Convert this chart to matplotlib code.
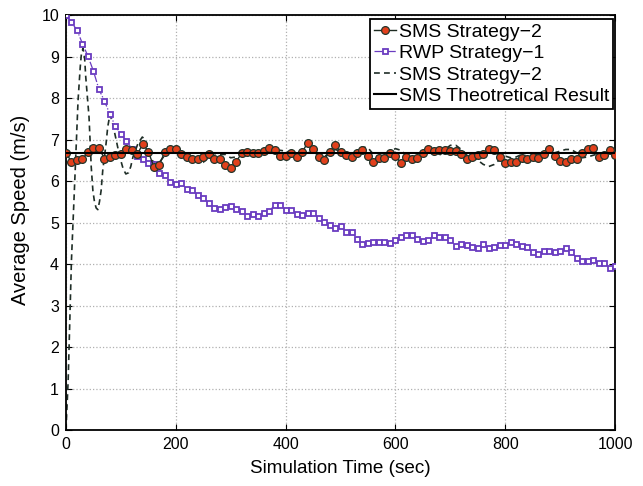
import matplotlib.pyplot as plt
import numpy as np

plt.rcParams["font.family"] = ["Liberation Sans", "DejaVu Sans"]

# sample times of the marked series (sec)
time = np.arange(0, 1001, 10)

# SMS Strategy-2, sampled every 10 s
sms_speed = [
    6.67, 6.47, 6.51, 6.53, 6.70, 6.79, 6.80, 6.54, 6.59, 6.62,
    6.65, 6.77, 6.75, 6.64, 6.90, 6.71, 6.34, 6.38, 6.71, 6.76,
    6.76, 6.64, 6.58, 6.52, 6.52, 6.58, 6.64, 6.52, 6.52, 6.39,
    6.32, 6.46, 6.68, 6.71, 6.68, 6.68, 6.73, 6.80, 6.74, 6.60,
    6.60, 6.67, 6.57, 6.69, 6.92, 6.78, 6.58, 6.50, 6.71, 6.86,
    6.71, 6.63, 6.58, 6.67, 6.74, 6.60, 6.47, 6.55, 6.55, 6.68,
    6.60, 6.43, 6.59, 6.54, 6.55, 6.67, 6.76, 6.72, 6.74, 6.74,
    6.72, 6.72, 6.64, 6.54, 6.58, 6.63, 6.66, 6.76, 6.74, 6.58,
    6.43, 6.47, 6.47, 6.55, 6.52, 6.57, 6.55, 6.66, 6.76, 6.60,
    6.48, 6.47, 6.52, 6.52, 6.67, 6.78, 6.80, 6.59, 6.63, 6.74,
    6.62,
]

# RWP Strategy-1, sampled every 10 s
rwp_speed = [
    10.00, 9.82, 9.64, 9.31, 9.01, 8.65, 8.21, 7.93, 7.61, 7.32,
    7.14, 6.96, 6.78, 6.61, 6.54, 6.44, 6.42, 6.20, 6.14, 5.97,
    5.93, 5.95, 5.80, 5.78, 5.66, 5.59, 5.46, 5.36, 5.33, 5.37,
    5.39, 5.32, 5.27, 5.15, 5.21, 5.15, 5.23, 5.27, 5.42, 5.42,
    5.31, 5.31, 5.21, 5.18, 5.22, 5.22, 5.11, 5.02, 4.93, 4.86,
    4.91, 4.78, 4.78, 4.61, 4.48, 4.51, 4.52, 4.52, 4.52, 4.50,
    4.59, 4.65, 4.71, 4.69, 4.61, 4.56, 4.59, 4.69, 4.65, 4.64,
    4.59, 4.44, 4.49, 4.46, 4.40, 4.38, 4.48, 4.39, 4.40, 4.46,
    4.46, 4.54, 4.49, 4.44, 4.40, 4.28, 4.24, 4.32, 4.32, 4.29,
    4.32, 4.39, 4.30, 4.14, 4.08, 4.08, 4.10, 4.02, 4.02, 3.91,
    3.96,
]

# SMS Strategy-2 transient run (unmarked dashed curve)
sms_run_time = [
    0, 4, 10, 16, 22, 26, 28, 31, 34, 36, 42, 46, 49, 52, 55, 58, 61, 64,
    67, 73, 76, 80, 84, 89, 98, 104, 109, 114, 118, 122, 131, 139, 144,
    148, 156, 165, 170,
] + list(range(180, 1001, 10))
sms_run_speed = [
    0.0, 1.2, 4.1, 6.0, 7.94, 8.75, 9.05, 9.2, 8.95, 8.51, 7.54, 6.34,
    5.77, 5.49, 5.35, 5.31, 5.5, 5.77, 6.26, 6.9, 7.3, 7.6, 7.45, 7.14,
    6.58, 6.3, 6.17, 6.2, 6.35, 6.58, 6.9, 7.06, 7.0, 6.82, 6.5, 6.42,
    6.45,
    6.62, 6.72, 6.72, 6.66, 6.62, 6.58, 6.48, 6.45, 6.58, 6.66,
    6.64, 6.64, 6.56, 6.58, 6.66, 6.72, 6.72, 6.70, 6.72, 6.74,
    6.72, 6.74, 6.72, 6.68, 6.64, 6.66, 6.68, 6.70, 6.62, 6.58,
    6.68, 6.76, 6.72, 6.66, 6.64, 6.72, 6.82, 6.80, 6.64, 6.58,
    6.62, 6.72, 6.78, 6.74, 6.62, 6.56, 6.58, 6.64, 6.70, 6.66,
    6.62, 6.76, 6.86, 6.86, 6.76, 6.62, 6.58, 6.50, 6.40, 6.35,
    6.40, 6.52, 6.60, 6.56, 6.58, 6.64, 6.68, 6.66, 6.62, 6.66,
    6.70, 6.68, 6.72, 6.76, 6.76, 6.68, 6.56, 6.58, 6.62, 6.66,
    6.64, 6.70, 6.66,
]

theory_speed = 6.67

fig = plt.figure(figsize=(6.43, 4.86), dpi=100)
ax = fig.add_axes([0.1026, 0.1152, 0.854, 0.8539])

ax.plot(time, sms_speed, "-o", color="#1e2b22", linewidth=1.0,
        markersize=5.6, markerfacecolor="#e2401c", markeredgecolor="#25352a",
        markeredgewidth=0.9, label="SMS Strategy\u22122", zorder=4)
ax.plot(time, rwp_speed, "-.s", color="#6a3cc0", linewidth=0.9,
        markersize=3.6, markerfacecolor="white", markeredgecolor="#6a3cc0",
        markeredgewidth=1.3, label="RWP Strategy\u22121", zorder=3)
ax.plot(sms_run_time, sms_run_speed, "--", color="#1f2e27", linewidth=1.2,
        dashes=(3.5, 2.5), label="SMS Strategy\u22122", zorder=2)
ax.axhline(theory_speed, color="black", linewidth=1.5,
           label="SMS Theotretical Result", zorder=5)

ax.set_xlim(0, 1000)
ax.set_ylim(0, 10)
ax.set_xticks(np.arange(0, 1001, 200))
ax.set_yticks(np.arange(0, 11, 1))
ax.grid(True, linestyle=":", color="#b0b0b0", linewidth=0.9)
ax.tick_params(direction="in", top=True, right=True, length=4,
               labelsize=11.5, pad=5)
for spine in ax.spines.values():
    spine.set_linewidth(1.3)

ax.set_xlabel("Simulation Time (sec)", fontsize=13.6, labelpad=6)
ax.set_ylabel("Average Speed (m/s)", fontsize=14.5)
ax.yaxis.set_label_coords(-0.066, 0.53)

leg = ax.legend(loc="upper right", bbox_to_anchor=(0.996, 0.99),
                fontsize=14, handlelength=1.1, handletextpad=0.15,
                borderpad=0.2, labelspacing=0.2, borderaxespad=0.0,
                fancybox=False, framealpha=1.0, edgecolor="black")
leg.get_frame().set_linewidth(1.3)

fig.savefig("out.png", dpi=100)
